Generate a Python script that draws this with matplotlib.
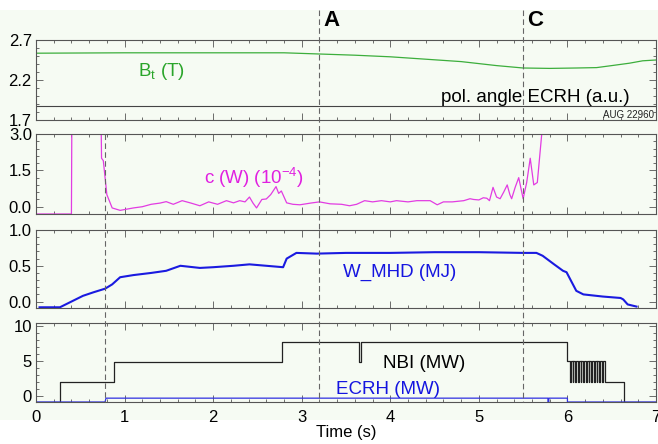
import matplotlib
matplotlib.use("Agg")
import matplotlib.pyplot as plt
from matplotlib.ticker import MultipleLocator, AutoMinorLocator
from matplotlib.lines import Line2D
from matplotlib.patches import Rectangle
import matplotlib.transforms as mtransforms

plt.rcParams['font.family'] = ['Liberation Sans', 'DejaVu Sans']

# --- data (AUG 22960) ---
bt_t = [0, 1, 2, 2.8, 3.2, 3.6, 4.0, 4.4, 4.8, 5.2, 5.5, 5.8, 6.1, 6.33, 6.5, 6.7, 6.85, 7.0]
bt_v = [2.535, 2.54, 2.54, 2.54, 2.525, 2.51, 2.49, 2.46, 2.43, 2.38, 2.35, 2.345, 2.35,
        2.355, 2.38, 2.41, 2.44, 2.45]
pol_t = [0, 7.0]
pol_v = [1.875, 1.875]

cw_t = [0, 0.40, 0.41, 0.72, 0.74, 0.76, 0.80, 0.86, 0.95, 1.1, 1.2, 1.3, 1.4, 1.47, 1.55,
        1.65, 1.75, 1.85, 1.95, 2.05, 2.15, 2.23, 2.3, 2.36, 2.41, 2.45, 2.49, 2.55, 2.6,
        2.65, 2.71, 2.74, 2.77, 2.83, 2.9, 2.98, 3.1, 3.2, 3.32, 3.45, 3.54, 3.62, 3.71,
        3.8, 3.9, 4.0, 4.07, 4.2, 4.3, 4.45, 4.53, 4.6, 4.7, 4.83, 4.9, 4.94, 5.0, 5.05,
        5.09, 5.12, 5.16, 5.2, 5.24, 5.28, 5.32, 5.35, 5.37, 5.41, 5.45, 5.5, 5.54, 5.58,
        5.62, 5.66, 5.71, 5.74]
cw_v = [-0.3, -0.3, 8, 8, 2.0, 1.9, 0.5, -0.05, -0.15, -0.05, 0.0, 0.1, 0.15, 0.21, 0.1,
        0.25, 0.15, 0.04, 0.2, 0.1, 0.25, 0.16, 0.25, 0.2, 0.4, 0.15, -0.05, 0.3, 0.32,
        0.5, 0.83, 0.55, 0.65, 0.16, 0.1, 0.08, 0.15, 0.2, 0.12, 0.1, 0.04, 0.1, 0.25,
        0.2, 0.25, 0.2, 0.25, 0.2, 0.25, 0.25, 0.08, 0.2, 0.2, 0.25, 0.33, 0.3, 0.28, 0.37,
        0.35, 0.25, 0.8, 0.4, 0.33, 0.6, 0.9, 0.5, 0.33, 0.8, 1.2, 0.33, 1.0, 2.0,
        0.9, 1.0, 3.0, 8]

w_t = [0.04, 0.27, 0.4, 0.53, 0.65, 0.78, 0.86, 0.95, 1.1, 1.3, 1.47, 1.63, 1.85, 2.0,
       2.23, 2.41, 2.6, 2.79, 2.83, 2.94, 3.17, 3.5, 4.0, 4.5, 5.0, 5.5, 5.65, 5.72, 5.85,
       5.95, 5.99, 6.1, 6.18, 6.4, 6.6, 6.63, 6.68, 6.78]
w_v = [-0.08, -0.08, 0.0, 0.08, 0.13, 0.18, 0.24, 0.34, 0.37, 0.4, 0.43, 0.5, 0.47, 0.48,
       0.5, 0.52, 0.5, 0.48, 0.6, 0.68, 0.67, 0.68, 0.68, 0.69, 0.69, 0.68, 0.68, 0.64,
       0.52, 0.43, 0.41, 0.15, 0.1, 0.07, 0.05, 0.03, -0.04, -0.07]

nbi_t = [0, 0.27, 0.88, 2.78, 3.65, 3.67, 6.0, 6.42, 6.64, 7.0]
nbi_v = [-0.8, 2.1, 4.95, 7.8, 4.95, 7.8, 5.0, 2.1, -0.8, -0.8]
nbi_dips = [6.03, 6.06, 6.09, 6.12, 6.15, 6.18, 6.21, 6.24, 6.27, 6.30, 6.33, 6.36, 6.39]
nbi_dip_v = 2.1

ecrh_t = [0, 0.78, 0.79, 5.78, 5.78, 5.79, 5.79, 6.0, 6.0, 7.0]
ecrh_v = [-0.8, -0.8, -0.25, -0.25, -0.8, -0.8, -0.25, -0.25, -0.8, -0.8]

marks = {'A': 3.2, 'C': 5.5}
t_start = 0.78

# build NBI step series with the short dips at ramp-down
st, sv = [], []
for i in range(len(nbi_t) - 1):
    st += [nbi_t[i], nbi_t[i + 1]]
    sv += [nbi_v[i], nbi_v[i]]
    if nbi_t[i] == 6.0:
        st, sv = st[:-1], sv[:-1]
        for d in nbi_dips:
            st += [d, d, d + 0.008, d + 0.008]
            sv += [nbi_v[i], nbi_dip_v, nbi_dip_v, nbi_v[i]]
        st.append(nbi_t[i + 1])
        sv.append(nbi_v[i])

# --- figure ---
W, H = 658, 444
fig = plt.figure(figsize=(W / 100, H / 100), dpi=100, facecolor='white')
fig.patches.append(Rectangle((0, 1 - 420 / H), 1, 410 / H, transform=fig.transFigure,
                             facecolor='#f6fbf3', edgecolor='none', zorder=-10))

bg = '#f6fbf3'
left, right = 36, 656
boxes = [(40, 120), (134, 214), (230, 308), (323, 402)]
axes = []
for top, bot in boxes:
    ax = fig.add_axes([left / W, 1 - bot / H, (right - left) / W, (bot - top) / H])
    ax.set_facecolor(bg)
    ax.set_xlim(0, 7)
    for s in ax.spines.values():
        s.set_color('#555555')
        s.set_linewidth(0.8)
    ax.tick_params(which='both', direction='in', top=True, right=True, colors='#555555',
                   labelcolor='black', labelsize=12, width=0.6, pad=3)
    ax.tick_params(which='major', length=5)
    ax.tick_params(which='minor', length=2.5)
    ax.xaxis.set_major_locator(MultipleLocator(1))
    ax.xaxis.set_minor_locator(MultipleLocator(0.2))
    ax.yaxis.set_minor_locator(AutoMinorLocator(5))
    axes.append(ax)
ax1, ax2, ax3, ax4 = axes
for ax in axes[:3]:
    ax.tick_params(labelbottom=False)

# panel 1: Bt and pol. angle
ax1.plot(bt_t, bt_v, color='#3cae3c', lw=0.9)
ax1.plot(pol_t, pol_v, color='#444444', lw=0.8)
ax1.set_ylim(1.7, 2.7)
ax1.set_yticks([1.7, 2.2, 2.7])
ax1.set_yticklabels(['1.7', '2.2', '2.7'])
ax1.text(1.15, 2.25, r'B$_\mathregular{t}$ (T)', color='#2aa52a', fontsize=13.5)
ax1.text(6.7, 1.93, 'pol. angle ECRH (a.u.)', fontsize=13.5, ha='right', va='baseline')
ax1.text(6.98, 1.765, 'AUG 22960', fontsize=7, ha='right', va='center', color='#222222')

# panel 2: c(W)
ax2.plot(cw_t, cw_v, color='#e23ce2', lw=0.9)
ax2.set_ylim(-0.3, 3.0)
ax2.set_yticks([0.0, 1.5, 3.0])
ax2.set_yticklabels(['0.0', '1.5', '3.0'])
ax2.text(1.9, 0.95, r'c (W) (10$^{\mathregular{-4}}$)', color='#e020e0', fontsize=13.5)

# panel 3: W_MHD
ax3.plot(w_t, w_v, color='#1a1ae0', lw=1.5)
ax3.set_ylim(-0.09, 1.0)
ax3.set_yticks([0.0, 0.5, 1.0])
ax3.set_yticklabels(['0.0', '0.5', '1.0'])
ax3.text(3.47, 0.34, 'W_MHD (MJ)', color='#1515e0', fontsize=13.5)

# panel 4: NBI / ECRH
ax4.plot(st, sv, color='#222222', lw=0.9)
ax4.plot(ecrh_t, ecrh_v, color='#3030e0', lw=0.9)
ax4.set_ylim(-0.8, 10.5)
ax4.set_yticks([0, 5, 10])
ax4.text(3.92, 4.7, 'NBI (MW)', fontsize=13.5, va='center')
ax4.text(3.39, 0.35, 'ECRH (MW)', color='#1515e0', fontsize=13.5)
ax4.set_xticks(range(8))
ax4.tick_params(axis='x', which='major', pad=6)
ax4.set_xlabel('Time (s)', fontsize=12, labelpad=0)

# dashed time markers
trans = mtransforms.blended_transform_factory(ax4.transData, fig.transFigure)
for lab, tm in marks.items():
    fig.lines.append(Line2D([tm, tm], [1 - 10 / H, 1 - 402 / H], transform=trans,
                            color='#666666', lw=0.8, ls=(0, (5, 3))))
    fig.text(tm + 0.14, 1 - 21 / H, lab, transform=trans, fontsize=16, fontweight='bold',
             ha='center', va='center')
fig.lines.append(Line2D([t_start, t_start], [1 - 134 / H, 1 - 402 / H], transform=trans,
                        color='#666666', lw=0.8, ls=(0, (5, 3))))

fig.savefig('out.png', dpi=100, facecolor=fig.get_facecolor())
